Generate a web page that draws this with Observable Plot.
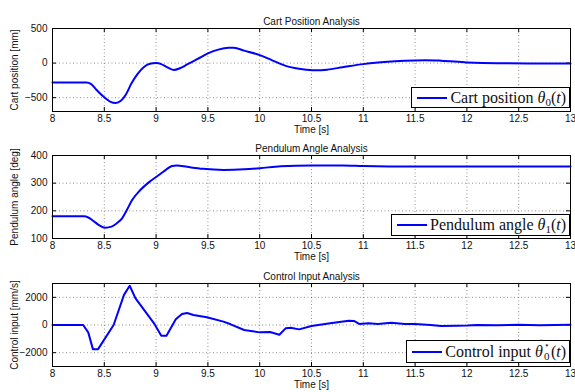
<!DOCTYPE html>
<html>
<head>
<meta charset="utf-8">
<script src="https://cdn.jsdelivr.net/npm/d3@7"></script>
<script src="https://cdn.jsdelivr.net/npm/@observablehq/plot@0.6"></script>
<style>
  html, body { margin: 0; padding: 0; background: #fff; overflow: hidden; }
  #wrap { position: relative; width: 575px; height: 392px; }
  .panel { position: absolute; left: 0; }
  .panel svg { overflow: visible; background: transparent; }
  .legend {
    position: absolute; box-sizing: border-box; background: #fff; border: 1px solid #000;
    display: flex; align-items: center; padding: 0 3px 0 5px;
    font-family: "Liberation Serif", "DejaVu Serif", serif; font-size: 16px; color: #111; white-space: nowrap;
  }
  .legend .swatch { display: inline-block; width: 30px; height: 2px; background: #0000ff; margin-right: 3px; }
  .legend sub { font-size: 11px; vertical-align: -3px; line-height: 0; }
  .dotted { position: relative; display: inline-block; }
  .dotted .dot { position: absolute; left: 4px; top: -5px; font-style: normal; font-size: 14px; line-height: 1; }
  .ss { position: relative; display: inline-block; width: 8px; height: 10px; }
  .ss .up { position: absolute; left: 1px; top: -6px; font-size: 9px; line-height: 1; }
  .ss .dn { position: absolute; left: 1px; top: 4px; font-size: 11px; line-height: 1; }
</style>
</head>
<body>
<div id="wrap"></div>
<script>
// ---- data ----
const xTicks = [8, 8.5, 9, 9.5, 10, 10.5, 11, 11.5, 12, 12.5, 13];

const cartTime = [8, 8.33, 8.37, 8.42, 8.5, 8.56, 8.61, 8.66, 8.71, 8.76, 8.82, 8.88, 8.94, 9.0, 9.05, 9.1, 9.17, 9.23, 9.3, 9.4, 9.5, 9.6, 9.7, 9.75, 9.85, 10.0, 10.12, 10.25, 10.35, 10.45, 10.55, 10.65, 10.8, 11.0, 11.2, 11.4, 11.6, 11.75, 12.0, 12.3, 12.6, 13.0];
const cartPos = [-280, -280, -300, -380, -495, -560, -577, -545, -450, -300, -160, -60, -10, 0, -15, -55, -100, -75, -20, 60, 140, 195, 220, 220, 180, 115, 40, -40, -75, -95, -105, -95, -60, -15, 15, 35, 42, 35, 10, -3, -5, -5];
const cartTicks = [-500, 0, 500];

const pendTime = [8, 8.3, 8.35, 8.4, 8.45, 8.51, 8.57, 8.62, 8.67, 8.72, 8.77, 8.85, 8.94, 9.04, 9.1, 9.155, 9.2, 9.3, 9.45, 9.65, 9.85, 10.0, 10.2, 10.5, 10.8, 11.0, 11.5, 12.0, 12.5, 13.0];
const pendAngle = [180, 180, 175, 162, 148, 139, 143, 155, 172, 205, 240, 276, 306, 333, 350, 362, 364, 359, 352, 348, 350, 354, 361, 364, 364, 362, 360, 360, 360, 360];
const pendTicks = [100, 200, 300, 400];

const ctrlTime = [8, 8.296, 8.345, 8.39, 8.44, 8.59, 8.69, 8.745, 8.80, 8.98, 9.05, 9.10, 9.19, 9.25, 9.30, 9.36, 9.49, 9.65, 9.72, 9.85, 10.0, 10.10, 10.19, 10.25, 10.30, 10.38, 10.5, 10.68, 10.86, 10.91, 10.96, 11.05, 11.14, 11.27, 11.40, 11.5, 11.65, 11.75, 11.9, 12.0, 12.1, 12.3, 12.5, 12.7, 13.0];
const ctrlInput = [0, 0, -533, -1745, -1745, 0, 2180, 2835, 1940, 120, -775, -775, 412, 800, 872, 727, 557, 242, 50, -364, -533, -510, -703, -242, -194, -315, -73, 120, 315, 290, 73, 120, 73, 170, 73, 73, 0, -70, -60, -40, 0, -20, 10, -10, 20];
const ctrlTicks = [-2000, 0, 2000];

const titles = ["Cart Position Analysis", "Pendulum Angle Analysis", "Control Input Analysis"];
const yLabels = ["Cart position [mm]", "Pendulum angle [deg]", "Control input [mm/s]"];
const xLabel = "Time [s]";

// ---- layout ----
const W = 575, ML = 52, MR = 5, MT = 28, PH = 83;
const wrap = document.getElementById("wrap");
const fmt = d => (d < 0 ? "\u2212" : "") + String(Math.abs(d));

function panel({times, values, title, ylabel, ydomain, yticks, curve, top, mb}) {
  const data = times.map((t, i) => ({t, v: values[i]}));
  const PW = W - ML - MR;
  const height = MT + PH + mb;
  const grid = {stroke: "#000", strokeOpacity: 0.55, strokeDasharray: "1,2.5", strokeWidth: 0.8};
  const chart = Plot.plot({
    width: W, height,
    marginLeft: ML, marginRight: MR, marginTop: MT, marginBottom: mb,
    style: {fontFamily: "'Liberation Sans', Arial, sans-serif", fontSize: "10px", background: "transparent", overflow: "visible", color: "#111"},
    x: {domain: [8, 13]},
    y: {domain: ydomain},
    marks: [
      Plot.gridX(xTicks, grid),
      Plot.gridY(yticks, grid),
      Plot.ruleX(xTicks, {stroke: "#000", insetTop: PH - 4}),
      Plot.ruleX(xTicks, {stroke: "#000", insetBottom: PH - 4}),
      Plot.ruleY(yticks, {stroke: "#000", insetRight: PW - 4}),
      Plot.ruleY(yticks, {stroke: "#000", insetLeft: PW - 4}),
      Plot.line(data, {x: "t", y: "v", stroke: "#0000ff", strokeWidth: 2, curve}),
      Plot.frame({stroke: "#000", strokeWidth: 1}),
      Plot.axisX(xTicks, {tickSize: 0, tickPadding: 3, fontSize: 10, label: null, tickFormat: fmt}),
      Plot.axisY(yticks, {tickSize: 0, tickPadding: 5, fontSize: 10, label: null, tickFormat: fmt}),
      Plot.text([title], {text: d => d, frameAnchor: "top", dy: -11, fontSize: 10}),
      Plot.text([xLabel], {text: d => d, frameAnchor: "bottom", dy: 21, fontSize: 10}),
      Plot.text([ylabel], {text: d => d, frameAnchor: "left", textAnchor: "middle", dx: -38, rotate: -90, fontSize: 10})
    ]
  });
  const div = document.createElement("div");
  div.className = "panel";
  div.style.top = top + "px";
  div.appendChild(chart);
  wrap.appendChild(div);
}

panel({times: cartTime, values: cartPos, title: titles[0], ylabel: yLabels[0], ydomain: [-700, 500], yticks: cartTicks, curve: "monotone-x", top: 0, mb: 27});
panel({times: pendTime, values: pendAngle, title: titles[1], ylabel: yLabels[1], ydomain: [100, 400], yticks: pendTicks, curve: "monotone-x", top: 127, mb: 27});
panel({times: ctrlTime, values: ctrlInput, title: titles[2], ylabel: yLabels[2], ydomain: [-3000, 3000], yticks: ctrlTicks, curve: "linear", top: 255, mb: 26});

// ---- legends ----
const legends = [
  {top: 87, h: 21, html: 'Cart position&nbsp;<i>θ</i><sub>0</sub>(<i>t</i>)'},
  {top: 214, h: 22, html: 'Pendulum angle&nbsp;<i>θ</i><sub>1</sub>(<i>t</i>)'},
  {top: 340, h: 23, html: 'Control input&nbsp;<span class="dotted"><i>θ</i><span class="dot">˙</span></span><span class="ss"><span class="up">⋆</span><span class="dn">0</span></span>(<i>t</i>)'}
];
for (const L of legends) {
  const d = document.createElement("div");
  d.className = "legend";
  d.style.top = L.top + "px";
  d.style.height = L.h + "px";
  d.style.right = MR + "px";
  d.innerHTML = '<span class="swatch"></span><span>' + L.html + '</span>';
  wrap.appendChild(d);
}
</script>
</body>
</html>
